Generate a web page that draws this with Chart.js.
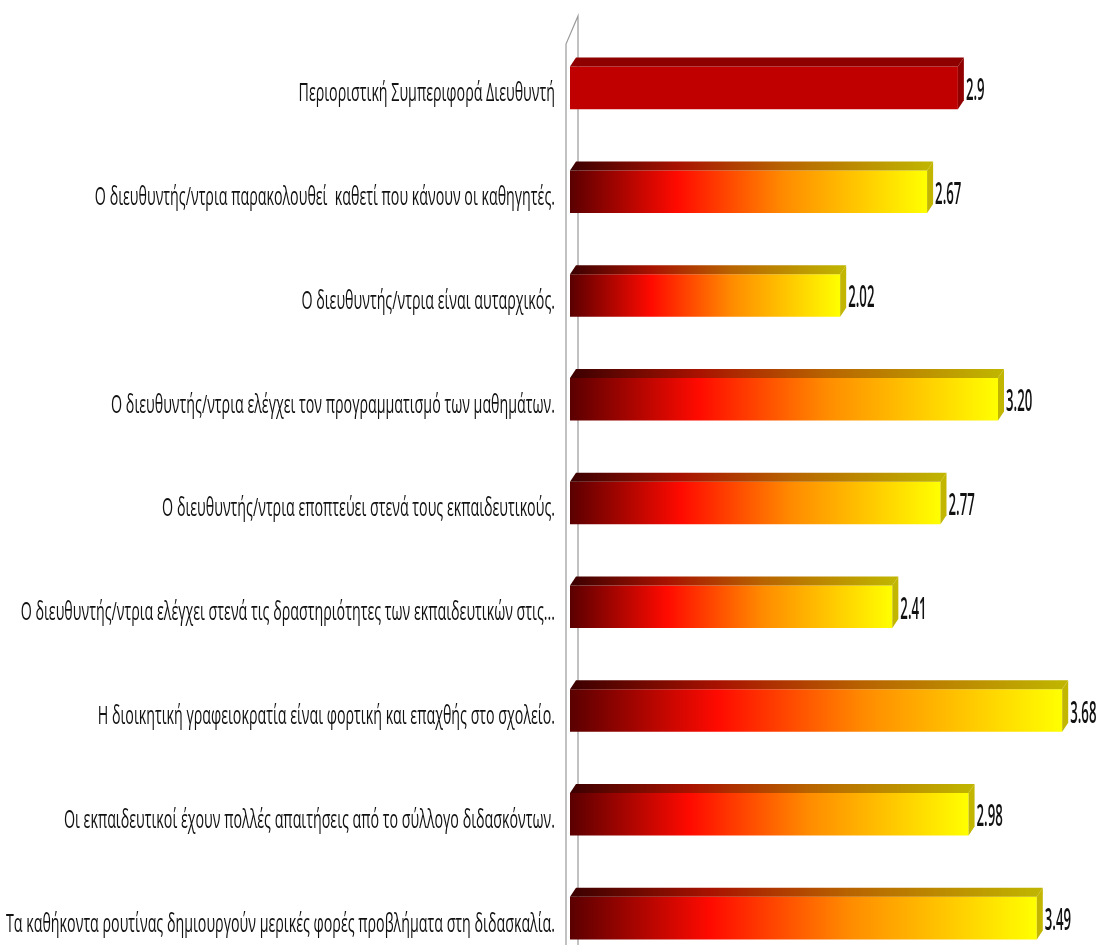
<!DOCTYPE html>
<html>
<head>
<meta charset="utf-8">
<script src="https://cdn.jsdelivr.net/npm/chart.js@4.4.1/dist/chart.umd.min.js"></script>
<style>
  html, body { margin: 0; padding: 0; background: #fff; overflow: hidden; }
  #wrap { position: absolute; left: 0; top: 0; width: 1105px; height: 975px; }
</style>
</head>
<body>
<div id="wrap"><canvas id="chart"></canvas></div>
<script>
// --- Data ---
const categories = [
  'Περιοριστική Συμπεριφορά Διευθυντή',
  'Ο διευθυντής/ντρια παρακολουθεί  καθετί που κάνουν οι καθηγητές.',
  'Ο διευθυντής/ντρια είναι αυταρχικός.',
  'Ο διευθυντής/ντρια ελέγχει τον προγραμματισμό των μαθημάτων.',
  'Ο διευθυντής/ντρια εποπτεύει στενά τους εκπαιδευτικούς.',
  'Ο διευθυντής/ντρια ελέγχει στενά τις δραστηριότητες των εκπαιδευτικών στις...',
  'Η διοικητική γραφειοκρατία είναι φορτική και επαχθής στο σχολείο.',
  'Οι εκπαιδευτικοί έχουν πολλές απαιτήσεις από το σύλλογο διδασκόντων.',
  'Τα καθήκοντα ρουτίνας δημιουργούν μερικές φορές προβλήματα στη διδασκαλία.'
];
const values = [2.9, 2.67, 2.02, 3.20, 2.77, 2.41, 3.68, 2.98, 3.49];
const valueLabels = ['2.9', '2.67', '2.02', '3.20', '2.77', '2.41', '3.68', '2.98', '3.49'];

// --- Helpers ---
const DEPTH_X = 6, DEPTH_Y = -9;

function frontFill(context) {
  const chart = context.chart;
  if (!chart.chartArea) return '#c00000';
  if (context.dataIndex === 0) return '#c00000'; // summary bar is plain red
  const xs = chart.scales.x;
  const x0 = xs.getPixelForValue(0), x1 = xs.getPixelForValue(context.raw);
  const g = chart.ctx.createLinearGradient(x0, 0, x1, 0);
  g.addColorStop(0, '#5a0000');
  g.addColorStop(0.3, '#ff0a00');
  g.addColorStop(0.6, '#ff8c00');
  g.addColorStop(1, '#ffff00');
  return g;
}

function topFill(c, x0, x1, i) {
  if (i === 0) return '#8e0000';
  const g = c.createLinearGradient(x0, 0, x1, 0);
  g.addColorStop(0, '#3a0000');
  g.addColorStop(0.3, '#a81200');
  g.addColorStop(0.6, '#b86400');
  g.addColorStop(1, '#c0b400');
  return g;
}

function stretchText(c, text, x, y, align, sx, sy) {
  c.save();
  c.translate(x, y);
  c.scale(sx, sy);
  c.textAlign = align;
  c.textBaseline = 'middle';
  c.fillText(text, 0, 0);
  c.restore();
}

// back wall edge, drawn under the bars
const wallPlugin = {
  id: 'wall',
  beforeDatasetsDraw(chart) {
    const c = chart.ctx, a = chart.chartArea;
    c.save();
    c.strokeStyle = '#9a9a9a';
    c.lineWidth = 1.2;
    c.beginPath();
    c.moveTo(a.left - 4, a.bottom);
    c.lineTo(a.left - 4, a.top + 8);
    c.lineTo(a.left + 8, a.top - 20);
    c.lineTo(a.left + 8, a.bottom);
    c.stroke();
    c.restore();
  }
};

// fake 3D: top face + right side face for every bar
const bar3dPlugin = {
  id: 'bar3d',
  afterDatasetsDraw(chart) {
    const c = chart.ctx;
    const meta = chart.getDatasetMeta(0);
    meta.data.forEach((el, i) => {
      const top = el.y - el.height / 2, bot = el.y + el.height / 2;
      c.save();
      c.fillStyle = topFill(c, el.base, el.x, i);
      c.beginPath();
      c.moveTo(el.base, top);
      c.lineTo(el.x, top);
      c.lineTo(el.x + DEPTH_X, top + DEPTH_Y);
      c.lineTo(el.base + DEPTH_X, top + DEPTH_Y);
      c.closePath();
      c.fill();
      c.fillStyle = i === 0 ? '#900000' : '#c2b600';
      c.beginPath();
      c.moveTo(el.x, top);
      c.lineTo(el.x + DEPTH_X, top + DEPTH_Y);
      c.lineTo(el.x + DEPTH_X, bot + DEPTH_Y);
      c.lineTo(el.x, bot);
      c.closePath();
      c.fill();
      c.restore();
    });
  }
};

// category and value labels, stretched tall like the original picture
const labelPlugin = {
  id: 'labels',
  afterDraw(chart) {
    const c = chart.ctx, a = chart.chartArea;
    const ys = chart.scales.y;
    const meta = chart.getDatasetMeta(0);
    c.save();
    c.fillStyle = '#111';
    c.font = '500 15px "Open Sans"';
    chart.data.labels.forEach((lab, i) => {
      stretchText(c, lab, a.left - 15, ys.getPixelForValue(i) + 6, 'right', 0.95, 1.75);
    });
    c.font = '600 15px "Open Sans"';
    meta.data.forEach((el, i) => {
      stretchText(c, valueLabels[i], el.x + DEPTH_X + 2, el.y + 3, 'left', 0.88, 2.1);
    });
    c.restore();
  }
};

new Chart(document.getElementById('chart'), {
  type: 'bar',
  data: {
    labels: categories,
    datasets: [{
      data: values,
      backgroundColor: frontFill,
      borderWidth: 0,
      categoryPercentage: 1,
      barPercentage: 0.41
    }]
  },
  options: {
    indexAxis: 'y',
    responsive: true,
    maintainAspectRatio: false,
    animation: false,
    layout: { padding: { left: 570, top: 36, right: 0, bottom: 5 } },
    plugins: { legend: { display: false }, tooltip: { enabled: false } },
    scales: {
      x: { display: false, min: 0, max: 4 },
      y: { display: false }
    }
  },
  plugins: [wallPlugin, bar3dPlugin, labelPlugin]
});
</script>
</body>
</html>
